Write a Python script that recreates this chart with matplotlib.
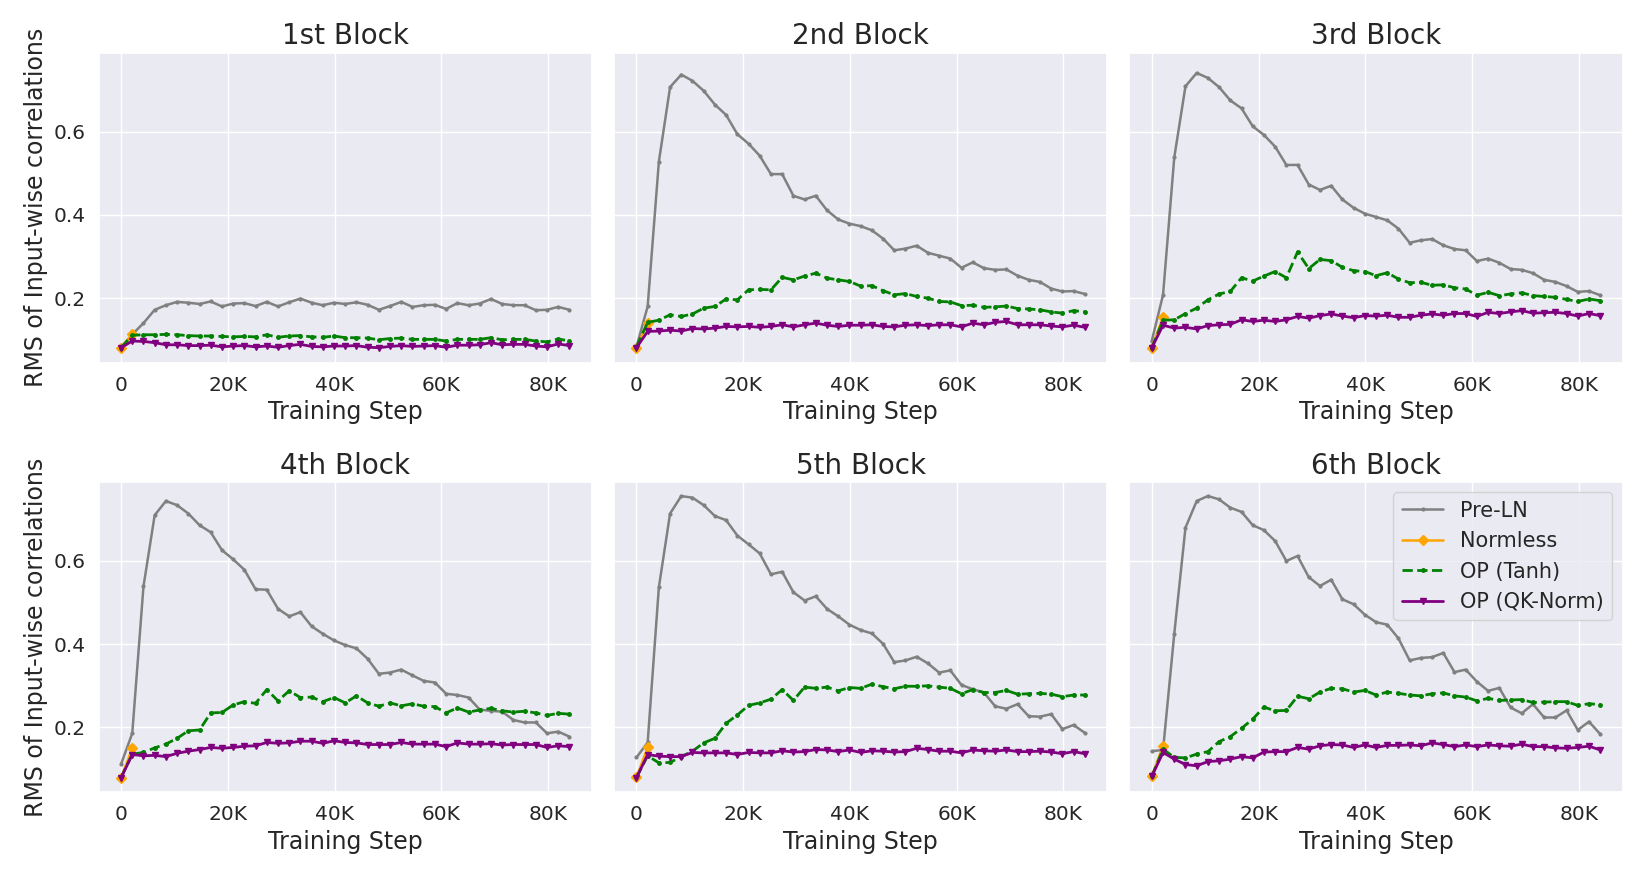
import matplotlib
matplotlib.use('Agg')
import matplotlib.pyplot as plt
import seaborn as sns
from matplotlib.ticker import FuncFormatter

# training steps (every 2.1K steps, 41 checkpoints)
steps = [i * 2100 for i in range(41)]
titles = ['1st Block', '2nd Block', '3rd Block', '4th Block', '5th Block', '6th Block']

# Pre-LN
pre_ln_1 = [0.081, 0.113, 0.140, 0.172, 0.183, 0.191, 0.189, 0.186, 0.192, 0.180,
            0.187, 0.188, 0.181, 0.191, 0.180, 0.190, 0.199, 0.189, 0.183, 0.189,
            0.186, 0.190, 0.184, 0.172, 0.181, 0.191, 0.179, 0.183, 0.184, 0.174,
            0.188, 0.183, 0.187, 0.198, 0.186, 0.183, 0.183, 0.171, 0.172, 0.179, 0.172]
pre_ln_2 = [0.083, 0.180, 0.528, 0.707, 0.737, 0.722, 0.698, 0.665, 0.640, 0.594,
            0.571, 0.542, 0.498, 0.498, 0.446, 0.437, 0.446, 0.411, 0.389, 0.379,
            0.373, 0.363, 0.343, 0.315, 0.319, 0.326, 0.309, 0.302, 0.295, 0.273,
            0.286, 0.272, 0.268, 0.269, 0.254, 0.244, 0.239, 0.223, 0.216, 0.217, 0.210]
pre_ln_3 = [0.098, 0.208, 0.538, 0.709, 0.741, 0.729, 0.707, 0.675, 0.656, 0.613,
            0.592, 0.564, 0.520, 0.520, 0.473, 0.460, 0.470, 0.437, 0.417, 0.403,
            0.395, 0.387, 0.367, 0.333, 0.339, 0.342, 0.327, 0.318, 0.315, 0.289,
            0.295, 0.285, 0.270, 0.268, 0.260, 0.244, 0.239, 0.229, 0.215, 0.217, 0.207]
pre_ln_4 = [0.112, 0.186, 0.539, 0.710, 0.744, 0.734, 0.714, 0.686, 0.669, 0.626,
            0.604, 0.579, 0.532, 0.531, 0.485, 0.467, 0.477, 0.443, 0.425, 0.409,
            0.398, 0.390, 0.365, 0.329, 0.332, 0.339, 0.325, 0.312, 0.308, 0.281,
            0.278, 0.272, 0.243, 0.240, 0.238, 0.218, 0.212, 0.212, 0.186, 0.190, 0.178]
pre_ln_5 = [0.128, 0.164, 0.537, 0.714, 0.756, 0.752, 0.734, 0.708, 0.698, 0.661,
            0.640, 0.618, 0.568, 0.574, 0.525, 0.505, 0.515, 0.485, 0.467, 0.447,
            0.434, 0.426, 0.401, 0.357, 0.361, 0.370, 0.354, 0.332, 0.337, 0.302,
            0.292, 0.284, 0.251, 0.245, 0.256, 0.227, 0.226, 0.232, 0.196, 0.206, 0.187]
pre_ln_6 = [0.143, 0.146, 0.425, 0.680, 0.744, 0.756, 0.748, 0.728, 0.718, 0.686,
            0.674, 0.648, 0.600, 0.612, 0.561, 0.540, 0.555, 0.508, 0.496, 0.471,
            0.453, 0.447, 0.414, 0.361, 0.367, 0.369, 0.379, 0.333, 0.339, 0.310,
            0.288, 0.295, 0.248, 0.234, 0.256, 0.224, 0.224, 0.241, 0.194, 0.214, 0.184]

# Normless (diverged after the second checkpoint)
normless_1 = [0.081, 0.113]
normless_2 = [0.081, 0.140]
normless_3 = [0.081, 0.155]
normless_4 = [0.079, 0.150]
normless_5 = [0.080, 0.152]
normless_6 = [0.083, 0.156]

# OP (Tanh)
tanh_1 = [0.081, 0.111, 0.112, 0.112, 0.113, 0.112, 0.110, 0.109, 0.109, 0.108,
          0.107, 0.108, 0.107, 0.112, 0.106, 0.109, 0.110, 0.107, 0.106, 0.109,
          0.105, 0.105, 0.104, 0.100, 0.103, 0.104, 0.101, 0.101, 0.101, 0.097,
          0.101, 0.101, 0.101, 0.105, 0.100, 0.101, 0.101, 0.097, 0.095, 0.102, 0.097]
tanh_2 = [0.083, 0.142, 0.147, 0.160, 0.156, 0.162, 0.176, 0.180, 0.198, 0.196,
          0.220, 0.221, 0.220, 0.250, 0.244, 0.253, 0.260, 0.248, 0.244, 0.240,
          0.229, 0.230, 0.218, 0.208, 0.211, 0.204, 0.200, 0.192, 0.191, 0.182,
          0.183, 0.178, 0.179, 0.181, 0.175, 0.174, 0.172, 0.167, 0.164, 0.170, 0.167]
tanh_3 = [0.081, 0.147, 0.148, 0.163, 0.176, 0.196, 0.210, 0.216, 0.249, 0.241,
          0.253, 0.264, 0.249, 0.311, 0.271, 0.293, 0.290, 0.274, 0.266, 0.264,
          0.254, 0.261, 0.246, 0.237, 0.238, 0.231, 0.232, 0.225, 0.222, 0.207,
          0.214, 0.206, 0.210, 0.213, 0.206, 0.204, 0.202, 0.197, 0.192, 0.198, 0.194]
tanh_4 = [0.080, 0.136, 0.140, 0.151, 0.160, 0.174, 0.192, 0.194, 0.235, 0.236,
          0.254, 0.262, 0.258, 0.291, 0.264, 0.288, 0.272, 0.273, 0.262, 0.272,
          0.259, 0.276, 0.259, 0.251, 0.259, 0.252, 0.257, 0.251, 0.250, 0.235,
          0.247, 0.237, 0.242, 0.246, 0.240, 0.237, 0.239, 0.235, 0.229, 0.234, 0.232]
tanh_5 = [0.080, 0.132, 0.115, 0.116, 0.130, 0.143, 0.163, 0.174, 0.210, 0.230,
          0.253, 0.259, 0.268, 0.291, 0.265, 0.297, 0.294, 0.297, 0.288, 0.296,
          0.294, 0.304, 0.298, 0.293, 0.299, 0.299, 0.300, 0.297, 0.294, 0.281,
          0.291, 0.284, 0.284, 0.289, 0.280, 0.281, 0.282, 0.280, 0.274, 0.278, 0.278]
tanh_6 = [0.083, 0.148, 0.128, 0.127, 0.136, 0.142, 0.166, 0.178, 0.198, 0.220,
          0.249, 0.240, 0.241, 0.275, 0.269, 0.285, 0.294, 0.293, 0.285, 0.289,
          0.278, 0.285, 0.282, 0.278, 0.276, 0.281, 0.283, 0.276, 0.273, 0.264,
          0.270, 0.265, 0.266, 0.267, 0.260, 0.261, 0.262, 0.262, 0.253, 0.257, 0.255]

# OP (QK-Norm)
qk_1 = [0.081, 0.097, 0.096, 0.093, 0.088, 0.088, 0.086, 0.086, 0.087, 0.083,
        0.085, 0.086, 0.083, 0.085, 0.082, 0.086, 0.089, 0.084, 0.083, 0.085,
        0.085, 0.086, 0.082, 0.081, 0.084, 0.086, 0.084, 0.085, 0.086, 0.082,
        0.087, 0.087, 0.088, 0.093, 0.088, 0.089, 0.089, 0.085, 0.083, 0.090, 0.086]
qk_2 = [0.081, 0.120, 0.121, 0.123, 0.121, 0.127, 0.126, 0.128, 0.132, 0.131,
        0.132, 0.130, 0.132, 0.136, 0.131, 0.136, 0.140, 0.135, 0.132, 0.135,
        0.135, 0.136, 0.132, 0.131, 0.135, 0.136, 0.134, 0.136, 0.136, 0.131,
        0.140, 0.136, 0.142, 0.144, 0.136, 0.136, 0.136, 0.133, 0.131, 0.135, 0.130]
qk_3 = [0.081, 0.135, 0.128, 0.130, 0.126, 0.134, 0.136, 0.137, 0.148, 0.144,
        0.147, 0.144, 0.148, 0.156, 0.152, 0.158, 0.162, 0.157, 0.153, 0.158,
        0.157, 0.159, 0.154, 0.154, 0.159, 0.162, 0.159, 0.163, 0.163, 0.156,
        0.166, 0.163, 0.167, 0.170, 0.164, 0.165, 0.166, 0.163, 0.157, 0.163, 0.158]
qk_4 = [0.079, 0.135, 0.132, 0.133, 0.130, 0.138, 0.143, 0.147, 0.152, 0.150,
        0.152, 0.155, 0.156, 0.164, 0.162, 0.163, 0.167, 0.167, 0.162, 0.168,
        0.164, 0.163, 0.159, 0.159, 0.159, 0.164, 0.160, 0.160, 0.160, 0.154,
        0.163, 0.160, 0.160, 0.161, 0.158, 0.159, 0.159, 0.159, 0.152, 0.156, 0.154]
qk_5 = [0.079, 0.135, 0.131, 0.130, 0.130, 0.140, 0.139, 0.139, 0.139, 0.135,
        0.140, 0.139, 0.139, 0.144, 0.141, 0.142, 0.147, 0.146, 0.142, 0.146,
        0.140, 0.144, 0.143, 0.141, 0.142, 0.150, 0.147, 0.143, 0.143, 0.139,
        0.146, 0.144, 0.143, 0.146, 0.142, 0.142, 0.143, 0.141, 0.137, 0.142, 0.137]
qk_6 = [0.083, 0.140, 0.124, 0.111, 0.108, 0.118, 0.120, 0.124, 0.130, 0.127,
        0.141, 0.142, 0.142, 0.152, 0.148, 0.156, 0.159, 0.158, 0.152, 0.158,
        0.152, 0.157, 0.157, 0.158, 0.156, 0.163, 0.159, 0.154, 0.158, 0.154,
        0.158, 0.156, 0.155, 0.160, 0.154, 0.154, 0.151, 0.150, 0.152, 0.155, 0.146]

pre_ln = [pre_ln_1, pre_ln_2, pre_ln_3, pre_ln_4, pre_ln_5, pre_ln_6]
normless = [normless_1, normless_2, normless_3, normless_4, normless_5, normless_6]
tanh = [tanh_1, tanh_2, tanh_3, tanh_4, tanh_5, tanh_6]
qk = [qk_1, qk_2, qk_3, qk_4, qk_5, qk_6]


def k_fmt(x, pos):
    if x == 0:
        return '0'
    return '%dK' % int(round(x / 1000))


sns.set_theme(style='darkgrid')

fig, axes = plt.subplots(2, 3, figsize=(16.44, 8.77), dpi=100, sharey=True)
for i, ax in enumerate(axes.flat):
    ax.plot(steps, pre_ln[i], color='grey', marker='.', markersize=4, linewidth=1.8, label='Pre-LN')
    ax.plot(steps[:2], normless[i], color='orange', marker='D', markersize=5, linewidth=1.8, label='Normless')
    ax.plot(steps, tanh[i], color='green', linestyle='--', marker='.', markersize=5, linewidth=2.0, label='OP (Tanh)')
    ax.plot(steps, qk[i], color='purple', marker='v', markersize=5, linewidth=2.0, label='OP (QK-Norm)')
    ax.set_title(titles[i], fontsize=20)
    ax.set_xlabel('Training Step', fontsize=17)
    ax.set_xticks([0, 20000, 40000, 60000, 80000])
    ax.xaxis.set_major_formatter(FuncFormatter(k_fmt))
    ax.tick_params(labelsize=14.5)
    if i % 3 == 0:
        ax.set_ylabel('RMS of Input-wise correlations', fontsize=17)
    ax.set_yticks([0.2, 0.4, 0.6])

axes[1, 2].legend(loc='upper right', fontsize=15)

plt.subplots_adjust(left=0.06, right=0.987, top=0.94, bottom=0.097, wspace=0.045, hspace=0.385)
plt.savefig('out.png')
